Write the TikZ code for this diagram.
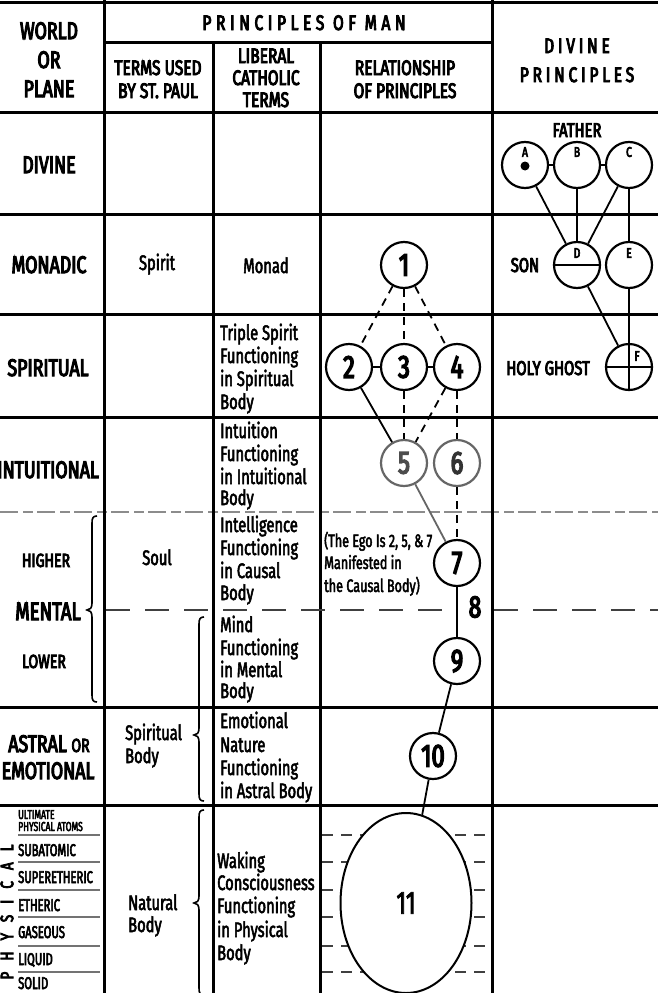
\documentclass[tikz,border=0pt]{standalone}
\usepackage{fontspec}
\setmainfont[FakeStretch=0.7]{Fira Sans}
\newfontfamily\fbody[FakeStretch=0.7,FakeBold=2.5]{Fira Sans}
\newfontfamily\fhead[FakeStretch=0.74,FakeBold=4.5]{Fira Sans}
\newfontfamily\fsub[FakeStretch=0.66,FakeBold=3.5]{Fira Sans}
\usetikzlibrary{shapes.geometric}
\newcommand\mybrace[4]{%
  \draw[line width=1.6pt] (#1+5,#2) .. controls (#1+1,#2) and (#1,#2+2) .. (#1,#2+7) -- (#1,#3-7)
   .. controls (#1,#3-2) and (#1-2,#3) .. (#1-5,#3) .. controls (#1-2,#3) and (#1,#3+2) .. (#1,#3+7)
   -- (#1,#4-7) .. controls (#1,#4-2) and (#1+1,#4) .. (#1+5,#4);}
\tikzset{
  grid/.style={line width=3pt},
  dline/.style={line width=1.6pt, dash pattern=on 24pt off 15pt, black!75},
  pdash/.style={line width=1.4pt, dash pattern=on 11pt off 8pt, black!75},
  conn/.style={line width=1.8pt},
  dconn/.style={line width=1.8pt, dash pattern=on 8pt off 6pt},
  pc/.style={circle, draw, line width=2.2pt, minimum size=46pt, inner sep=0pt, fill=white,
     font=\fhead\fontsize{32}{32}\selectfont},
  dc/.style={circle, draw, line width=2.2pt, minimum size=46pt, inner sep=0pt, fill=white},
  tc/.style={inner sep=0pt, anchor=base},
  tl/.style={inner sep=0pt, anchor=base west},
  rl/.style={tc, font=\fhead\fontsize{24}{24}\selectfont},
  hd/.style={tc, font=\fhead\fontsize{21}{21}\selectfont},
  bt/.style={tl, font=\fbody\fontsize{21}{23}\selectfont},
  btc/.style={tc, font=\fbody\fontsize{21}{23}\selectfont},
  sm/.style={tl, font=\fbody\fontsize{18}{22}\selectfont},
  ph/.style={tl, font=\fsub\fontsize{17}{17}\selectfont},
  lt/.style={inner sep=0pt, font=\fhead\fontsize{14}{14}\selectfont},
}
\begin{document}
\begin{tikzpicture}[x=1pt,y=-1pt]
\useasboundingbox[fill=white] (0,0) rectangle (658,993);
% ---------- grid ----------
\draw[grid] (0,2) -- (658,2);
\draw[grid] (104,42) -- (492,42);
\foreach \y in {112,214,314,417,707,805} \draw[grid] (0,\y) -- (658,\y);
\draw[line width=2.5pt, black!45, dash pattern=on 18pt off 5pt on 10pt off 4pt] (0,512) -- (658,512);
\draw[grid] (104,0) -- (104,993);
\draw[grid] (213,42) -- (213,993);
\draw[grid] (320,42) -- (320,993);
\draw[grid] (492,0) -- (492,993);
\draw[dline] (106,610) -- (457,610);
\draw[dline] (494,610) -- (658,610);
% physical sub-lines
\foreach \y in {835,862,890,917,946,972} {
  \draw[line width=1.6pt, black!55] (18,\y) -- (100,\y);
  \draw[pdash] (322,\y) -- (490,\y);
}
% ---------- headers ----------
\node[tc, font=\fhead\fontsize{21}{21}\selectfont\addfontfeature{LetterSpace=22}] (hpm) at (304,30) {PRINCIPLES OF MAN};
\node[rl] (hw1) at (49,39) {WORLD};
\node[rl] (hw2) at (49,68) {OR};
\node[rl] (hw3) at (49,97) {PLANE};
\node[hd] (ht1) at (158,75) {TERMS USED};
\node[hd] (ht2) at (158,98) {BY ST. PAUL};
\node[hd] (hl1) at (266,63) {LIBERAL};
\node[hd] (hl2) at (266,85) {CATHOLIC};
\node[hd] (hl3) at (266,107) {TERMS};
\node[hd] (hr1) at (405,75) {RELATIONSHIP};
\node[hd] (hr2) at (405,98) {OF PRINCIPLES};
\node[tc, font=\fhead\fontsize{21}{21}\selectfont\addfontfeature{LetterSpace=18}] (hd1) at (577,53) {DIVINE};
\node[tc, font=\fhead\fontsize{21}{21}\selectfont\addfontfeature{LetterSpace=18}] (hd2) at (577,82) {PRINCIPLES};
% ---------- row labels ----------
\node[rl] (rDiv) at (49,173) {DIVINE};
\node[rl] (rMon) at (49,273) {MONADIC};
\node[rl] (rSpi) at (48,376) {SPIRITUAL};
\node[rl, anchor=base east] (rInt) at (99,478) {INTUITIONAL};
\node[tc, font=\fhead\fontsize{19}{19}\selectfont] (rHi) at (46,567) {HIGHER};
\node[rl, font=\fhead\fontsize{25}{25}\selectfont] (rMen) at (48,620) {MENTAL};
\node[tc, font=\fhead\fontsize{19}{19}\selectfont] (rLo) at (44,668) {LOWER};
\node[rl] (rAst) at (49,752) {ASTRAL {\fontsize{19}{19}\selectfont OR}};
\node[rl] (rEmo) at (48,779) {EMOTIONAL};
\mybrace{92}{516}{610}{702}
% physical
\node[rotate=90, inner sep=0pt, font=\fhead\fontsize{18}{18}\selectfont\addfontfeature{LetterSpace=62}] (phys) at (7,912) {PHYSICAL};
\node[tl, font=\fsub\fontsize{13}{13}\selectfont] (pUa) at (18,819) {ULTIMATE};
\node[tl, font=\fsub\fontsize{13}{13}\selectfont] (pUb) at (18,831) {PHYSICAL ATOMS};
\node[ph] (pSub) at (18,856) {SUBATOMIC};
\node[ph] (pSup) at (18,883) {SUPERETHERIC};
\node[ph] (pEth) at (18,911) {ETHERIC};
\node[ph] (pGas) at (18,938) {GASEOUS};
\node[ph] (pLiq) at (18,965) {LIQUID};
\node[ph] (pSol) at (18,989) {SOLID};
% ---------- terms used by St. Paul ----------
\node[btc] (tSpirit) at (157,270) {Spirit};
\node[btc] (tSoul) at (157,565) {Soul};
\node[bt] (tSB1) at (125,740) {Spiritual};
\node[bt] (tSB2) at (125,763) {Body};
\node[bt] (tNB1) at (128,910) {Natural};
\node[bt] (tNB2) at (128,932) {Body};
\mybrace{199}{617}{735}{801}
\mybrace{199}{810}{903}{995}
% ---------- liberal catholic terms ----------
\node[btc] (lMonad) at (266,273) {Monad};
\foreach \t/\y [count=\i] in {Triple Spirit/340, Functioning/363, in Spiritual/386, Body/409}
  \node[bt] (la\i) at (220,\y) {\t};
\foreach \t/\y [count=\i] in {Intuition/438, Functioning/461, in Intuitional/484, Body/505}
  \node[bt] (lb\i) at (220,\y) {\t};
\foreach \t/\y [count=\i] in {Intelligence/532, Functioning/555, in Causal/578, Body/600}
  \node[bt] (lc\i) at (220,\y) {\t};
\foreach \t/\y [count=\i] in {Mind/632, Functioning/655, in Mental/677, Body/698}
  \node[bt] (ld\i) at (220,\y) {\t};
\foreach \t/\y [count=\i] in {Emotional/728, Nature/752, Functioning/775, in Astral Body/798}
  \node[bt] (le\i) at (220,\y) {\t};
\foreach \t/\y [count=\i] in {Waking/868, Consciousness/890, Functioning/913, in Physical/937, Body/960}
  \node[bt] (lf\i) at (217,\y) {\t};
% ---------- relationship ----------
\node[sm] (eg1) at (324,547) {(The Ego Is 2, 5, \& 7};
\node[sm] (eg2) at (324,569) {Manifested in};
\node[sm] (eg3) at (324,592) {the Causal Body)};
\node[pc] (c1) at (404,265) {1};
\node[pc] (c2) at (349,367) {2};
\node[pc] (c3) at (404,367) {3};
\node[pc] (c4) at (457,367) {4};
\node[pc, draw=black!60, text=black!70] (c5) at (404,463) {5};
\node[pc, draw=black!60, text=black!80] (c6) at (457,463) {6};
\node[pc] (c7) at (457,563) {7};
\node[pc] (c9) at (457,661) {9};
\node[pc] (c10) at (433,756) {10};
\node[ellipse, draw, line width=2pt, fill=white, minimum width=131pt, minimum height=180pt,
  inner sep=0pt, font=\fbody\fontsize{32}{32}\selectfont] (c11) at (406,903) {11};
\node[inner sep=0pt, font=\fhead\fontsize{31}{31}\selectfont] (n8) at (475,607) {8};
\draw[dconn] (c1) -- (c2);
\draw[dconn] (c1) -- (c3);
\draw[dconn] (c1) -- (c4);
\draw[conn] (c2) -- (c3);
\draw[conn] (c3) -- (c4);
\draw[conn] (c2) -- (c5);
\draw[dconn] (c3) -- (c5);
\draw[dconn] (c4) -- (c5);
\draw[dconn] (c4) -- (c6);
\draw[conn, black!60] (c5) -- (c7);
\draw[dconn] (c6) -- (c7);
\draw[conn] (c7) -- (c9);
\draw[conn] (c9) -- (c10);
\draw[conn] (c10) -- (c11);
% ---------- divine principles ----------
\node[tc, font=\fhead\fontsize{20}{20}\selectfont] (father) at (577,137) {FATHER};
\node[dc] (dA) at (525,165) {};
\node[dc] (dB) at (577,165) {};
\node[dc] (dC) at (629,165) {};
\node[dc] (dD) at (577,265) {};
\node[dc] (dE) at (629,265) {};
\node[dc] (dF) at (629,367) {};
\node[circle, fill, inner sep=0pt, minimum size=9pt] (dot) at (525,166) {};
\node[lt] (lA) at (525,152) {A};
\node[lt] (lB) at (577,152) {B};
\node[lt] (lC) at (629,152) {C};
\node[lt] (lD) at (577,253) {D};
\node[lt] (lE) at (629,253) {E};
\node[lt] (lF) at (637,356) {F};
\draw[line width=2pt] (dD.west) -- (dD.east);
\draw[line width=2pt] (dF.west) -- (dF.east);
\draw[line width=2pt] (dF.north) -- (dF.south);
\draw[conn] (dA) -- (dB);
\draw[conn] (dB) -- (dC);
\draw[conn] (dA) -- (dD);
\draw[conn] (dB) -- (dD);
\draw[conn] (dC) -- (dD);
\draw[conn] (dC) -- (dE);
\draw[conn] (dD) -- (dF);
\draw[conn] (dE) -- (dF);
\node[tc, font=\fhead\fontsize{20}{20}\selectfont] (son) at (525,272) {SON};
\node[tc, font=\fhead\fontsize{20}{20}\selectfont] (hg) at (548,375) {HOLY GHOST};
\end{tikzpicture}
\end{document}
